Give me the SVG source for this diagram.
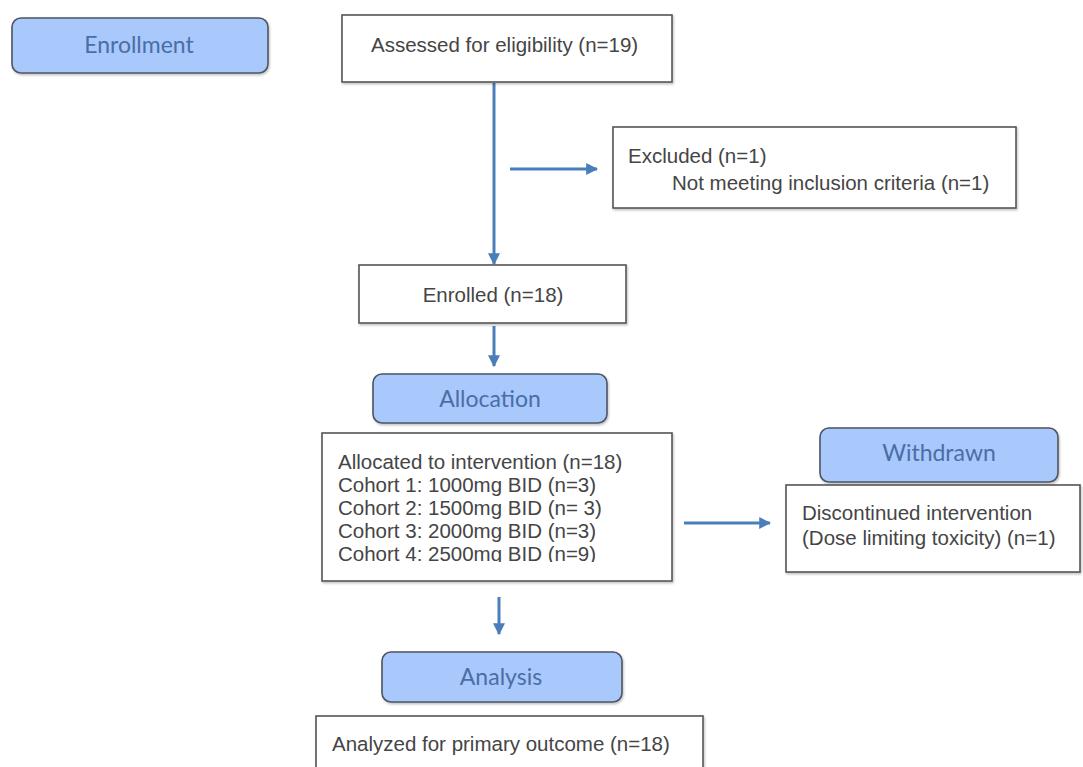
<svg xmlns="http://www.w3.org/2000/svg" width="1083" height="767" viewBox="0 0 1083 767">
<defs>
<style>
.box{fill:#fff;stroke:#555;stroke-width:1.6}
.hdr{fill:#a9c8fb;stroke:#4d5562;stroke-width:1.6}
.t{font-family:"Liberation Sans",Arial,sans-serif;font-size:20.5px;fill:#454545}
.h{font-family:Lato,"Open Sans",sans-serif;font-size:23px;fill:#4a6ea6;text-anchor:middle}
.c{text-anchor:middle}
.ar{stroke:#4a7ebb;stroke-width:3;fill:none;marker-end:url(#ah)}
</style>
<marker id="ah" viewBox="0 0 10 10" refX="9" refY="5" markerWidth="4" markerHeight="4" orient="auto" markerUnits="strokeWidth">
<path d="M0,0 L10,5 L0,10 z" fill="#4a7ebb"/>
</marker>
<clipPath id="clipAlloc"><rect x="322" y="433" width="350" height="129"/></clipPath>
<filter id="sh" x="-5%" y="-5%" width="110%" height="115%"><feDropShadow dx="1" dy="1.5" stdDeviation="1" flood-color="#000" flood-opacity="0.25"/></filter>
</defs>
<rect width="1083" height="767" fill="#fff"/>
<g id="connectors">
<line class="ar" x1="494" y1="83" x2="494" y2="264"/>
<line class="ar" x1="510" y1="169" x2="597" y2="169"/>
<line class="ar" x1="494" y1="326" x2="494" y2="366"/>
<line class="ar" x1="684" y1="523" x2="770" y2="523"/>
<line class="ar" x1="499" y1="597" x2="499" y2="634"/>
</g>
<g id="enrollment"><rect class="hdr" x="12" y="18" width="256" height="55" rx="9" filter="url(#sh)"/><text class="h" x="139" y="53">Enrollment</text></g>
<g id="assessed"><rect class="box" x="342" y="15" width="330" height="67" filter="url(#sh)"/><text class="t" x="371" y="52">Assessed for eligibility (n=19)</text></g>
<g id="excluded"><rect class="box" x="613" y="127" width="403" height="81" filter="url(#sh)"/><text class="t" x="628" y="163">Excluded (n=1)</text><text class="t" x="672" y="190">Not meeting inclusion criteria (n=1)</text></g>
<g id="enrolled"><rect class="box" x="359" y="265" width="267" height="58" filter="url(#sh)"/><text class="t c" x="493" y="302">Enrolled (n=18)</text></g>
<g id="allocation"><rect class="hdr" x="373" y="374" width="234" height="49" rx="9" filter="url(#sh)"/><text class="h" x="490" y="407">Allocation</text></g>
<g id="allocated"><rect class="box" x="322" y="433" width="350" height="148" filter="url(#sh)"/>
<g clip-path="url(#clipAlloc)">
<text class="t" x="338" y="469">Allocated to intervention (n=18)</text>
<text class="t" x="338" y="492">Cohort 1: 1000mg BID (n=3)</text>
<text class="t" x="338" y="515">Cohort 2: 1500mg BID (n= 3)</text>
<text class="t" x="338" y="538">Cohort 3: 2000mg BID (n=3)</text>
<text class="t" x="338" y="561">Cohort 4: 2500mg BID (n=9)</text>
</g></g>
<g id="withdrawn"><rect class="hdr" x="820" y="428" width="238" height="54" rx="9" filter="url(#sh)"/><text class="h" x="939" y="461">Withdrawn</text></g>
<g id="discontinued"><rect class="box" x="786" y="485" width="294" height="87" filter="url(#sh)"/><text class="t" x="802" y="520">Discontinued intervention</text><text class="t" x="802" y="545">(Dose limiting toxicity) (n=1)</text></g>
<g id="analysis"><rect class="hdr" x="382" y="652" width="240" height="50" rx="9" filter="url(#sh)"/><text class="h" x="501" y="685">Analysis</text></g>
<g id="analyzed"><rect class="box" x="316" y="716" width="387" height="70" filter="url(#sh)"/><text class="t" x="332" y="751">Analyzed for primary outcome (n=18)</text></g>
</svg>
